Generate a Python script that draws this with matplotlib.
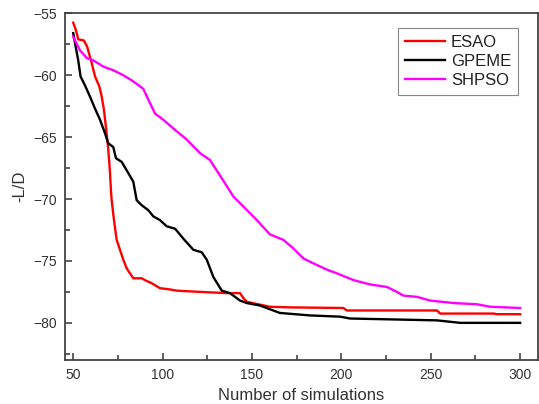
import matplotlib
matplotlib.use("Agg")
import matplotlib.pyplot as plt
from matplotlib.ticker import MultipleLocator

plt.rcParams['font.family'] = ['Liberation Sans', 'DejaVu Sans']

esao_x = [50, 51.5, 52.8, 56, 57.8, 60.3, 62.2, 64.6, 65.9, 67.2, 68.3, 69.6, 70.5, 71.1, 71.5,
          72.8, 74.3, 75.7, 78, 79.9, 83.6, 88.3, 90.1, 93.9, 98.5, 104, 107.9, 121, 135.9, 143.3,
          145.2, 147.1, 160, 171.3, 201.2, 203, 253.5, 255.3, 285.2, 287, 300]
esao_y = [-55.76, -56.35, -57.1, -57.2, -57.7, -59.0, -60.1, -60.9, -61.7, -62.8, -64.2, -66.0, -67.7, -69.3, -70.1,
          -71.7, -73.3, -73.9, -74.9, -75.6, -76.4, -76.4, -76.55, -76.8, -77.2, -77.3, -77.4, -77.5, -77.6, -77.6,
          -78.0, -78.3, -78.7, -78.75, -78.8, -79.0, -79.0, -79.25, -79.25, -79.3, -79.3]

gpeme_x = [50, 51, 52.8, 54.1, 56.5, 59.3, 62.2, 65, 67.8, 69.6, 72.4, 73.9, 77.1, 80.8, 83.6, 85.5,
           88.3, 92, 94.8, 98.5, 102.3, 107, 111.6, 117.2, 121.9, 124.7, 128.4, 133.1, 137.7, 143.3,
           147.1, 154.5, 160, 165.6, 182.4, 199.3, 204.9, 253.5, 266.5, 300]
gpeme_y = [-56.6, -57.4, -58.8, -60.1, -60.8, -61.7, -62.7, -63.6, -64.7, -65.5, -65.8, -66.7, -67.0, -67.9, -68.6, -70.1,
           -70.5, -70.9, -71.4, -71.7, -72.2, -72.4, -73.2, -74.1, -74.3, -74.9, -76.3, -77.4, -77.6, -78.2,
           -78.4, -78.6, -78.9, -79.2, -79.4, -79.5, -79.65, -79.8, -80.0, -80.0]

shpso_x = [50, 53.8, 57.5, 61.2, 66.8, 72.4, 78, 83.6, 89.2, 92.1, 95.8, 100.4, 106, 113.5, 121,
           126.5, 132.1, 139.6, 152.7, 160, 167.6, 173.2, 178.8, 184.4, 191.9, 197.5, 206.8, 216.1,
           225.5, 231, 234.8, 242.3, 249.7, 262.8, 275.9, 283.3, 300]
shpso_y = [-56.9, -58.0, -58.6, -58.8, -59.3, -59.6, -60.0, -60.5, -61.1, -62.0, -63.1, -63.6, -64.3, -65.2, -66.3,
           -66.85, -68.1, -69.8, -71.7, -72.85, -73.3, -74.0, -74.8, -75.2, -75.7, -76.0, -76.55, -76.9,
           -77.1, -77.5, -77.8, -77.9, -78.2, -78.4, -78.5, -78.7, -78.8]

labels = ["ESAO", "GPEME", "SHPSO"]
colors = ["#ff0000", "#000000", "#ff00ff"]

fig = plt.figure(figsize=(5.39, 4.04), dpi=100)
ax = fig.add_axes([65/539, 1-360/404, 473/539, (360-13.3)/404])

for xs, ys, lab, c in zip([esao_x, gpeme_x, shpso_x], [esao_y, gpeme_y, shpso_y], labels, colors):
    ax.plot(xs, ys, color=c, lw=1.7, label=lab)

ax.set_xlim(45.4, 310)
ax.set_ylim(-83.0, -55)
ax.xaxis.set_major_locator(MultipleLocator(50))
ax.xaxis.set_minor_locator(MultipleLocator(25))
ax.yaxis.set_major_locator(MultipleLocator(5))
ax.yaxis.set_minor_locator(MultipleLocator(2.5))

tc = "#333333"
ax.tick_params(which='both', direction='in', top=False, right=False, color=tc, labelcolor=tc, width=1.1)
ax.tick_params(which='major', length=5, labelsize=10, pad=6)
ax.tick_params(which='minor', length=3.5)
for s in ax.spines.values():
    s.set_color("#444444")
    s.set_linewidth(1.3)

ax.set_xlabel("Number of simulations", fontsize=12, color=tc, labelpad=4)
ax.set_ylabel("-L/D", fontsize=12, color=tc, labelpad=4)

leg = ax.legend(loc='upper right', bbox_to_anchor=(0.958, 0.957), borderaxespad=0,
                fontsize=12, handlelength=2.4, handletextpad=0.35, labelspacing=0.22,
                borderpad=0.42, fancybox=False, framealpha=1, edgecolor="#888888")
leg.get_frame().set_linewidth(0.8)
for t in leg.get_texts():
    t.set_color("#222222")

fig.savefig("out.png", dpi=100)
